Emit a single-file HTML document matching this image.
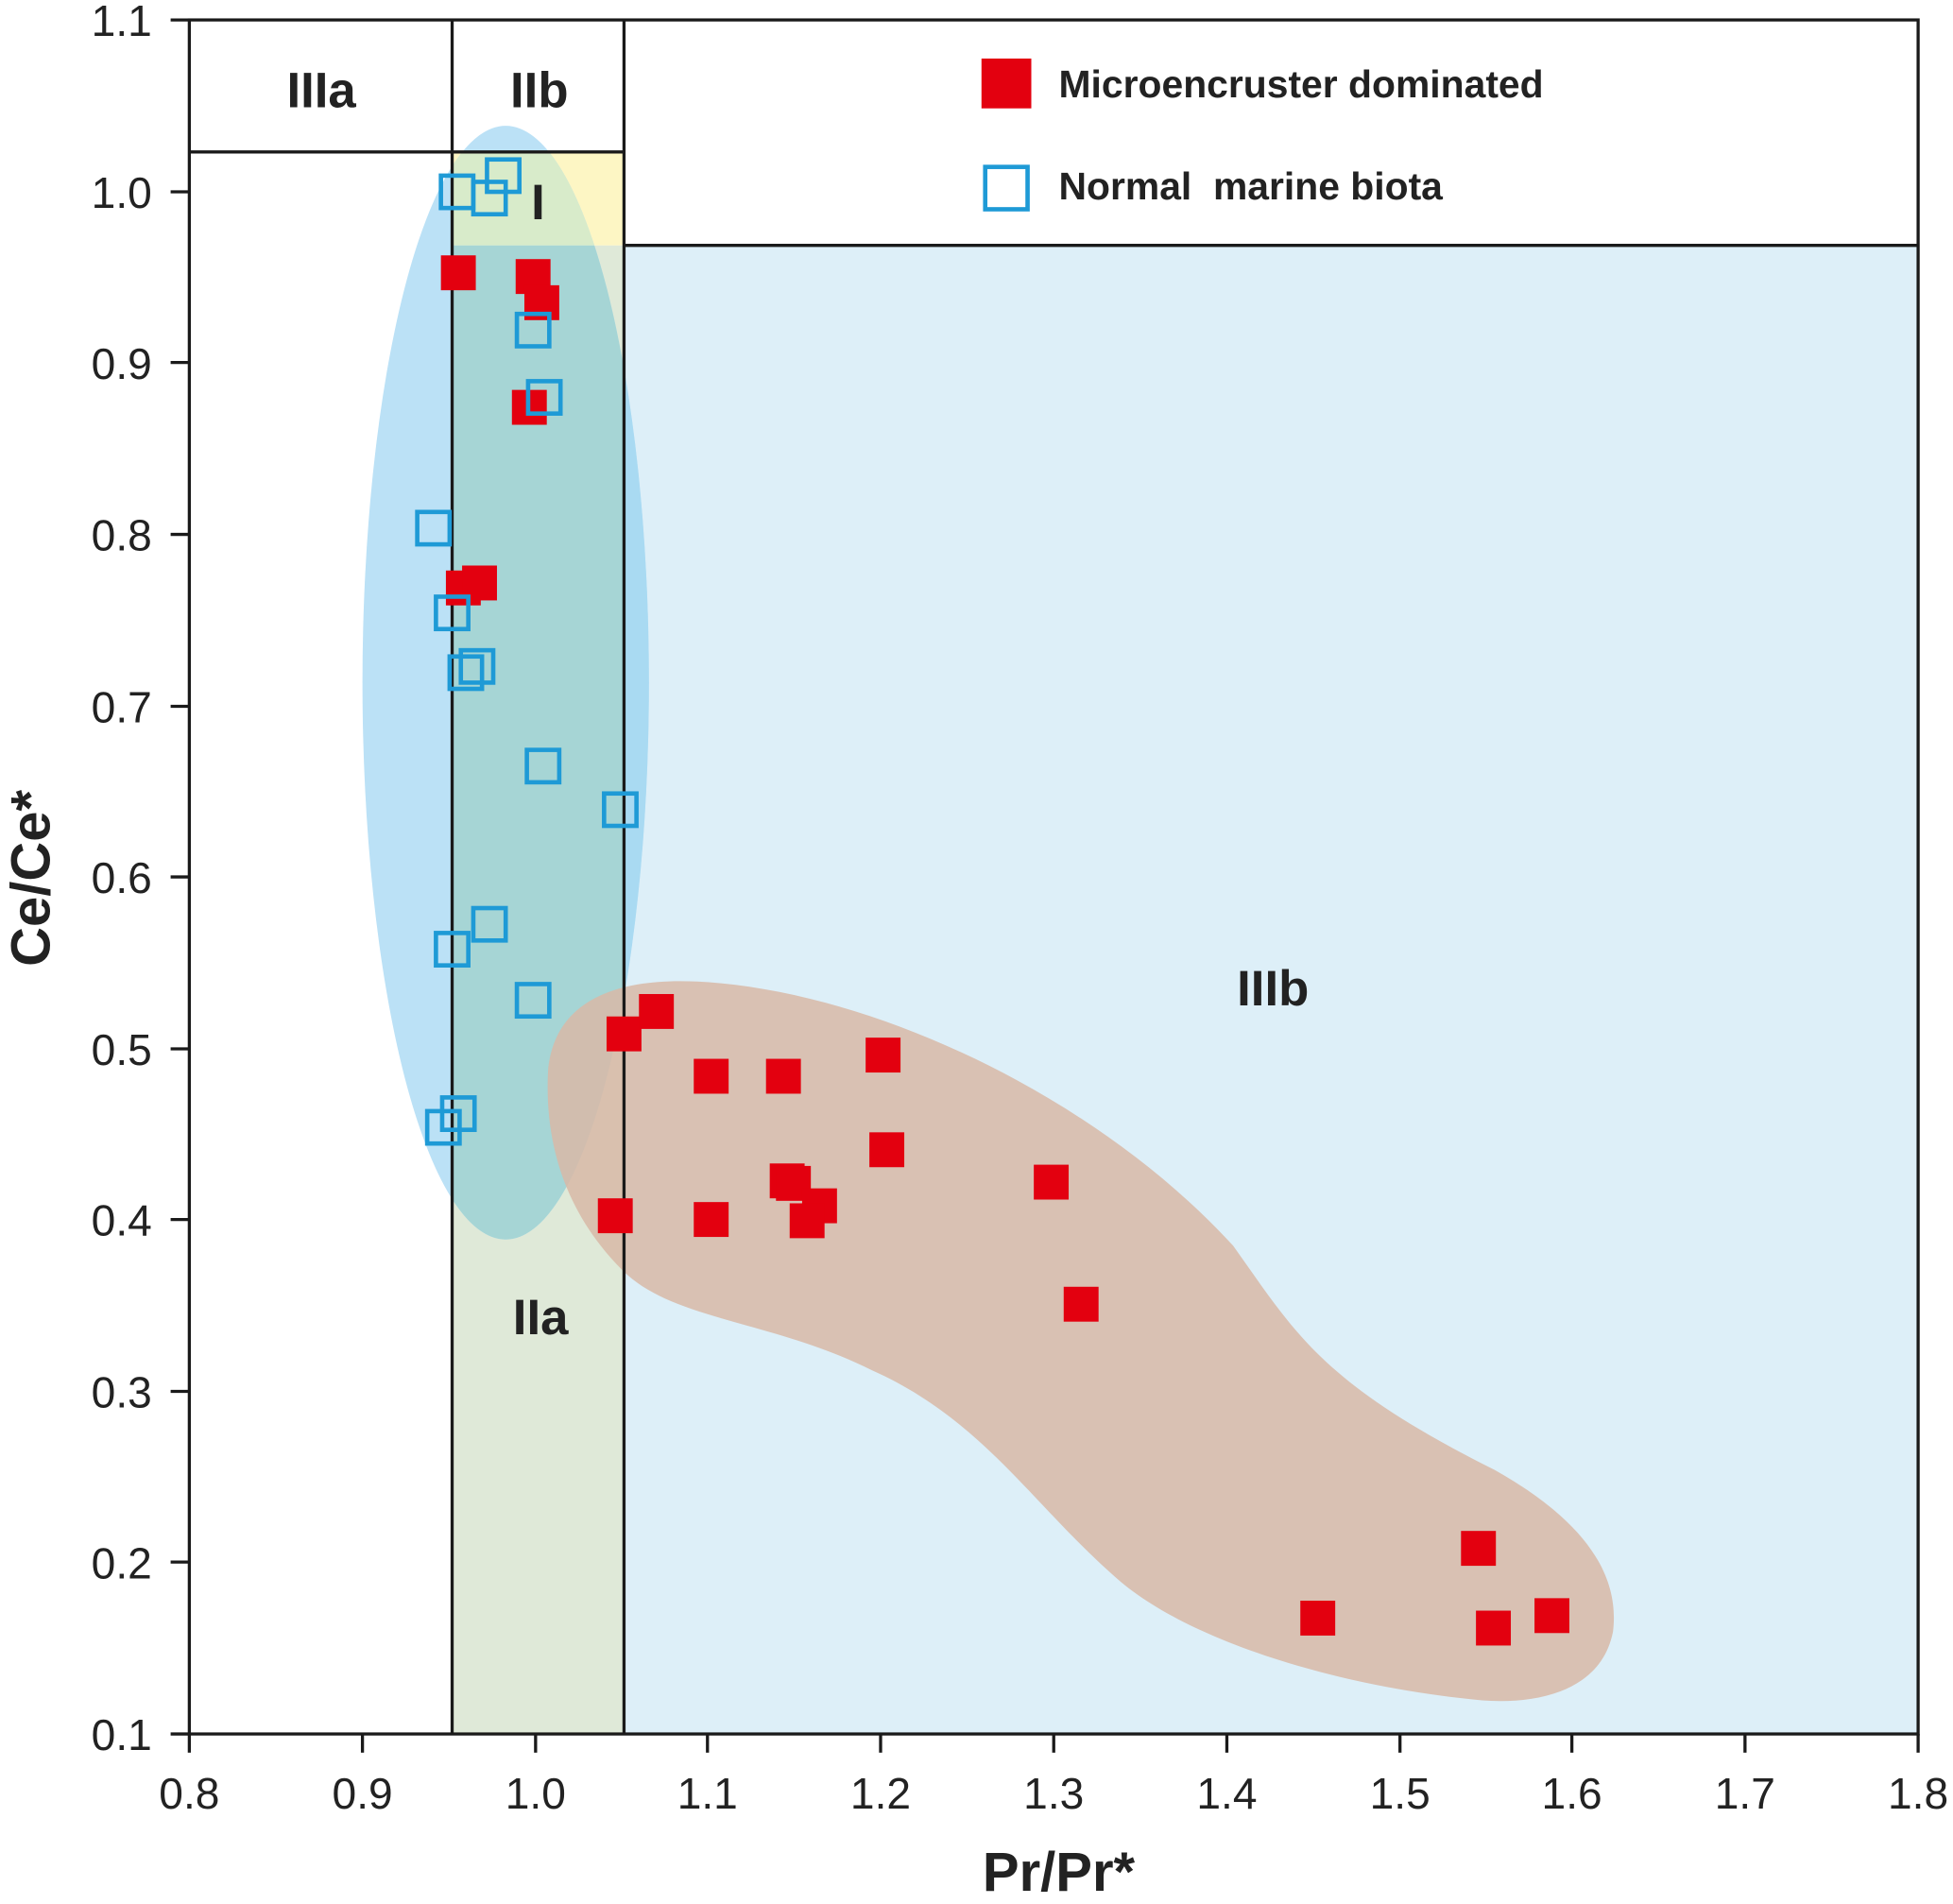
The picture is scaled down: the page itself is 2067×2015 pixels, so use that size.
<!DOCTYPE html>
<html><head><meta charset="utf-8"><style>
html,body{margin:0;padding:0;background:#fff;}
svg{display:block;}
text{font-family:"Liberation Sans",sans-serif;}
</style></head><body>
<svg width="2067" height="2015" viewBox="0 0 1568 1528.5" preserveAspectRatio="none" xmlns="http://www.w3.org/2000/svg">
<defs>
<clipPath id="cg"><rect x="363" y="197" width="138" height="1195"/></clipPath>
<clipPath id="cy"><rect x="363" y="122" width="138" height="75"/></clipPath>
<clipPath id="cb"><rect x="501" y="197" width="1039" height="1195"/></clipPath>
</defs>
<rect x="0" y="0" width="1568" height="1528.5" fill="#fff"/>
<!-- regions -->
<rect x="363" y="197" width="138" height="1195" fill="#dfe9d8"/>
<rect x="363" y="122" width="138" height="75" fill="#fdf6c4"/>
<rect x="501" y="197" width="1039" height="1195" fill="#ddeff8"/>
<!-- blue ellipse -->
<ellipse cx="406" cy="548" rx="115" ry="447" fill="#bbe1f6"/>
<ellipse cx="406" cy="548" rx="115" ry="447" fill="#a6d5d5" clip-path="url(#cg)"/>
<ellipse cx="406" cy="548" rx="115" ry="447" fill="#d8ebca" clip-path="url(#cy)"/>
<ellipse cx="406" cy="548" rx="115" ry="447" fill="#a9daf2" clip-path="url(#cb)"/>
<!-- brown blob -->
<path d="M440,860 C445,800 500,785 560,788 C700,795 880,880 990,1000 C1040,1070 1060,1110 1200,1180 C1280,1225 1300,1270 1295,1310 C1285,1360 1230,1368 1190,1365 C1080,1355 960,1320 900,1270 C830,1210 790,1140 700,1100 C620,1060 540,1060 500,1020 C455,975 437,920 440,860 Z" fill="#d8b9a7" fill-opacity="0.85"/>
<!-- lines -->
<g stroke="#1a1a1a" stroke-width="2.5" fill="none">
<line x1="363" y1="16" x2="363" y2="1392"/>
<line x1="501" y1="16" x2="501" y2="1392"/>
<line x1="152" y1="122" x2="501" y2="122"/>
<line x1="501" y1="197" x2="1540" y2="197"/>
<rect x="152" y="16" width="1388" height="1376"/>
</g>
<!-- ticks -->
<g stroke="#1a1a1a" stroke-width="2.5">
<line x1="137" y1="16" x2="152" y2="16"/><line x1="137" y1="154" x2="152" y2="154"/><line x1="137" y1="291" x2="152" y2="291"/><line x1="137" y1="429" x2="152" y2="429"/><line x1="137" y1="567" x2="152" y2="567"/><line x1="137" y1="704" x2="152" y2="704"/><line x1="137" y1="842" x2="152" y2="842"/><line x1="137" y1="979" x2="152" y2="979"/><line x1="137" y1="1117" x2="152" y2="1117"/><line x1="137" y1="1254" x2="152" y2="1254"/><line x1="137" y1="1392" x2="152" y2="1392"/>
<line x1="152" y1="1392" x2="152" y2="1407"/><line x1="291" y1="1392" x2="291" y2="1407"/><line x1="430" y1="1392" x2="430" y2="1407"/><line x1="568" y1="1392" x2="568" y2="1407"/><line x1="707" y1="1392" x2="707" y2="1407"/><line x1="846" y1="1392" x2="846" y2="1407"/><line x1="985" y1="1392" x2="985" y2="1407"/><line x1="1124" y1="1392" x2="1124" y2="1407"/><line x1="1262" y1="1392" x2="1262" y2="1407"/><line x1="1401" y1="1392" x2="1401" y2="1407"/><line x1="1540" y1="1392" x2="1540" y2="1407"/>
</g>
<g font-size="35" fill="#222" text-anchor="end">
<text x="122" y="29">1.1</text><text x="122" y="167">1.0</text><text x="122" y="304">0.9</text><text x="122" y="442">0.8</text><text x="122" y="580">0.7</text><text x="122" y="717">0.6</text><text x="122" y="855">0.5</text><text x="122" y="992">0.4</text><text x="122" y="1130">0.3</text><text x="122" y="1267">0.2</text><text x="122" y="1405">0.1</text>
</g>
<g font-size="35" fill="#222" text-anchor="middle">
<text x="152" y="1452">0.8</text><text x="291" y="1452">0.9</text><text x="430" y="1452">1.0</text><text x="568" y="1452">1.1</text><text x="707" y="1452">1.2</text><text x="846" y="1452">1.3</text><text x="985" y="1452">1.4</text><text x="1124" y="1452">1.5</text><text x="1262" y="1452">1.6</text><text x="1401" y="1452">1.7</text><text x="1540" y="1452">1.8</text>
</g>
<text x="850" y="1518" font-size="44" font-weight="bold" text-anchor="middle" fill="#222">Pr/Pr*</text>
<text transform="translate(40,705) rotate(-90)" font-size="44" font-weight="bold" text-anchor="middle" fill="#222">Ce/Ce*</text>
<g font-size="40" font-weight="bold" fill="#222" text-anchor="middle">
<text x="258" y="86">IIIa</text><text x="433" y="86">IIb</text><text x="432" y="176">I</text><text x="1022" y="807">IIIb</text><text x="434" y="1071">IIa</text>
</g>
<!-- legend -->
<rect x="788" y="47" width="40" height="40" fill="#e3000f"/>
<rect x="791" y="134" width="34" height="34" fill="none" stroke="#1e9ad6" stroke-width="3.5"/>
<text x="850" y="78" font-size="31" font-weight="bold" fill="#222">Microencruster dominated</text>
<text x="850" y="160" font-size="31" font-weight="bold" fill="#222" xml:space="preserve">Normal  marine biota</text>
<!-- red points -->
<g fill="#e3000f">
<rect x="354" y="205" width="28" height="28"/><rect x="414" y="208" width="28" height="28"/><rect x="421" y="229" width="28" height="28"/><rect x="411" y="313" width="28" height="28"/><rect x="358" y="458" width="28" height="28"/><rect x="371" y="454" width="28" height="28"/><rect x="487" y="816" width="28" height="28"/><rect x="513" y="798" width="28" height="28"/><rect x="557" y="850" width="28" height="28"/><rect x="615" y="850" width="28" height="28"/><rect x="695" y="833" width="28" height="28"/><rect x="698" y="909" width="28" height="28"/><rect x="618" y="934" width="28" height="28"/><rect x="623" y="936" width="28" height="28"/><rect x="644" y="954" width="28" height="28"/><rect x="634" y="966" width="28" height="28"/><rect x="480" y="962" width="28" height="28"/><rect x="557" y="965" width="28" height="28"/><rect x="830" y="935" width="28" height="28"/><rect x="854" y="1033" width="28" height="28"/><rect x="1044" y="1285" width="28" height="28"/><rect x="1173" y="1229" width="28" height="28"/><rect x="1185" y="1293" width="28" height="28"/><rect x="1232" y="1283" width="28" height="28"/>
</g>
<!-- blue points -->
<g fill="none" stroke="#1e9ad6" stroke-width="3.5">
<rect x="354" y="141" width="26" height="26"/><rect x="380" y="146" width="26" height="26"/><rect x="391" y="128" width="26" height="26"/><rect x="415" y="252" width="26" height="26"/><rect x="424" y="306" width="26" height="26"/><rect x="335" y="411" width="26" height="26"/><rect x="350" y="479" width="26" height="26"/><rect x="361" y="527" width="26" height="26"/><rect x="370" y="522" width="26" height="26"/><rect x="423" y="602" width="26" height="26"/><rect x="485" y="637" width="26" height="26"/><rect x="380" y="729" width="26" height="26"/><rect x="350" y="749" width="26" height="26"/><rect x="415" y="790" width="26" height="26"/><rect x="355" y="881" width="26" height="26"/><rect x="343" y="892" width="26" height="26"/>
</g>
</svg>
</body></html>
